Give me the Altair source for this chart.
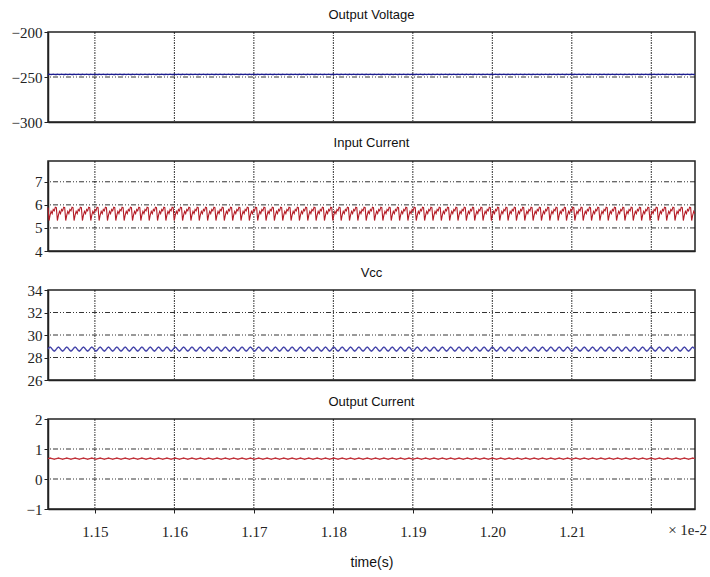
import altair as alt
import pandas as pd

# time axis, in units of 1e-2 s
T_START = 1.1441
T_END = 1.2255
PERIOD = 0.00105          # switching ripple period (1e-2 s)
X_TICKS = [1.15, 1.16, 1.17, 1.18, 1.19, 1.20, 1.21, 1.22]

# one ripple cycle of each waveform, sampled at 8 points
output_voltage_cycle = [-247.2, -247.0, -247.1, -247.2, -247.1, -247.0, -247.1, -247.2]
input_current_cycle = [5.88, 5.32, 5.55, 5.72, 5.62, 5.80, 5.74, 5.90]
vcc_cycle = [28.75, 28.87, 28.93, 28.87, 28.75, 28.63, 28.57, 28.63]
output_current_cycle = [0.68, 0.69, 0.70, 0.69, 0.68, 0.67, 0.66, 0.67]

# title, cycle, y domain, y ticks, colour, line width, title offset
panels = [
    ("Output Voltage", output_voltage_cycle, [-300, -200], [-300, -250, -200], "#1c1c8e", 1.4, 3),
    ("Input Current", input_current_cycle, [4, 7.9], [4, 5, 6, 7], "#b41c26", 1.1, 11),
    ("Vcc", vcc_cycle, [26, 34], [26, 28, 30, 32, 34], "#4646aa", 1.4, 3),
    ("Output Current", output_current_cycle, [-1, 2], [-1, 0, 1, 2], "#c03038", 1.4, 3),
]

W, H = 647, 90
GRID_DASH = [5, 2, 1, 2, 1, 2]
SERIF = "Liberation Serif"
SANS = "Liberation Sans"


def waveform(cycle):
    n = len(cycle)
    dt = PERIOD / n
    rows = []
    i = 0
    while T_START + i * dt <= T_END:
        rows.append({"t": T_START + i * dt, "v": cycle[i % n]})
        i += 1
    return pd.DataFrame(rows)


charts = []
for k, (title, cycle, ydom, yticks, color, sw, toff) in enumerate(panels):
    last = k == len(panels) - 1
    inner = [v for v in yticks if v not in (ydom[0], ydom[1])]
    df = waveform(cycle)

    xscale = alt.Scale(domain=[T_START, T_END], nice=False, zero=False)
    yscale = alt.Scale(domain=ydom, nice=False, zero=False)

    xaxis = alt.Axis(
        values=X_TICKS,
        labels=last,
        ticks=last,
        labelExpr="datum.value > 1.215 ? '' : format(datum.value, '.2f')",
        title="time(s)" if last else None,
        labelPadding=11,
        titlePadding=16,
    )
    yaxis = alt.Axis(values=yticks, title=None, labelPadding=2)

    vgrid = alt.Chart(pd.DataFrame({"t": X_TICKS})).mark_rule(
        color="#111", strokeWidth=1, strokeDash=[2, 1, 1, 1], opacity=0.85
    ).encode(x=alt.X("t:Q", scale=xscale, axis=xaxis))

    hgrid = alt.Chart(pd.DataFrame({"y": inner})).mark_rule(
        color="#111", strokeWidth=1, strokeDash=GRID_DASH, opacity=0.85
    ).encode(y=alt.Y("y:Q", scale=yscale, axis=yaxis))

    line = alt.Chart(df).mark_line(color=color, strokeWidth=sw).encode(
        x=alt.X("t:Q", scale=xscale, axis=xaxis),
        y=alt.Y("v:Q", scale=yscale, axis=yaxis),
    )

    layers = [vgrid, hgrid, line]
    if last:
        exp = alt.Chart(pd.DataFrame({"s": ["× 1e-2"]})).mark_text(
            font=SERIF, fontSize=15, color="#222", align="right", baseline="middle"
        ).encode(text="s:N", x=alt.value(W + 12), y=alt.value(H + 21))
        layers.append(exp)

    chart = alt.layer(*layers).properties(
        width=W,
        height=H,
        title=alt.TitleParams(
            title, font=SANS, fontSize=13, fontWeight="normal", color="#111",
            anchor="middle", offset=toff,
        ),
    )
    charts.append(chart)

chart = alt.vconcat(*charts, spacing=39, bounds="flush").properties(
    padding={"left": 10, "top": 8, "right": 2, "bottom": 2},
    background="white",
).configure_view(
    stroke="#222", strokeWidth=1.5
).configure_axis(
    grid=False,
    tickSize=4,
    tickColor="#222",
    labelFont=SERIF,
    labelFontSize=15,
    labelColor="#222",
    labelOverlap=False,
    labelFlush=False,
    titleFont=SANS,
    titleFontSize=14,
    titleFontWeight="normal",
    titleColor="#111",
    domainColor="#222",
    domainWidth=1.5,
)

chart.save("out.html", embed_options={"renderer": "svg", "actions": False})
